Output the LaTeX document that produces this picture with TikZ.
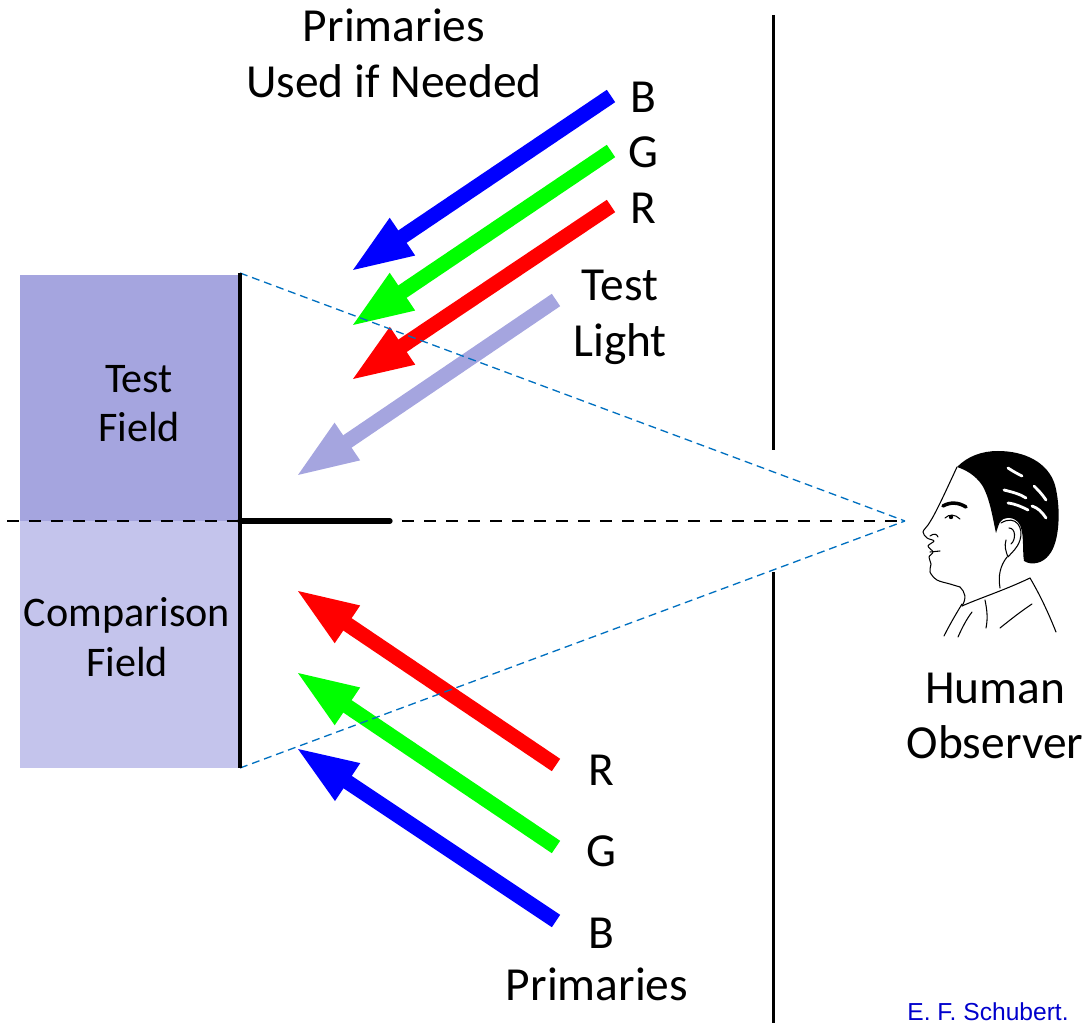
\documentclass[tikz,border=0pt]{standalone}
\usepackage{fontspec}
\setmainfont{Carlito}
\newfontfamily\creditfont{Liberation Sans}
\usetikzlibrary{arrows.meta}

\definecolor{testfield}{RGB}{165,165,223}
\definecolor{compfield}{RGB}{196,196,236}
\definecolor{primB}{RGB}{0,0,255}
\definecolor{primG}{RGB}{0,255,0}
\definecolor{primR}{RGB}{255,0,0}
\definecolor{sightline}{RGB}{0,112,192}
\definecolor{credit}{RGB}{0,0,204}

\begin{document}
\begin{tikzpicture}[x=0.02cm, y=-0.02cm,
	beam/.style={line width=8.5pt, -{Triangle[length=36pt, width=23pt]}},
	biglabel/.style={anchor=base, align=center, font=\fontsize{27}{32.3}\selectfont},
	fieldlabel/.style={anchor=base, align=center, font=\fontsize{24}{28.3}\selectfont},
	sight/.style={sightline, line width=0.75pt, dash pattern=on 4.5pt off 2.8pt},
	face/.style={line width=0.6pt, line cap=round, line join=round}]
	
	\useasboundingbox (0,0) rectangle (1085,1023);
	
	% the two halves of the bipartite field
	\fill[testfield] (20,275) rectangle (240,521);
	\fill[compfield] (20,521) rectangle (240,768);
	
	\coordinate (fieldT) at (240,273);
	\coordinate (fieldB) at (240,768);
	\coordinate (fieldM) at (240,521);
	\coordinate (baffle) at (390,521);
	\coordinate (axisL) at (7,521);
	\coordinate (eye) at (905,521);
	
	% screen
	\coordinate (scrA) at (773,15);
	\coordinate (scrB) at (773,450);
	\coordinate (scrC) at (773,572);
	\coordinate (scrD) at (773,1023);
	\draw[line width=1.7pt] (scrA) -- (scrB);
	\draw[line width=1.7pt] (scrC) -- (scrD);
	
	% primaries added to the test light
	\coordinate (tB) at (611,96);   \coordinate (hB) at (350,272);
	\coordinate (tG) at (611,151);  \coordinate (hG) at (350,327);
	\coordinate (tR) at (611,206);  \coordinate (hR) at (350,381);
	\coordinate (tT) at (556,300);  \coordinate (hT) at (295,477);
	\draw[beam, primB] (tB) -- (hB);
	\draw[beam, primG] (tG) -- (hG);
	\draw[beam, primR] (tR) -- (hR);
	\draw[beam, testfield] (tT) -- (hT);
	
	% primaries mixed on the comparison field
	\coordinate (bR) at (556,765);  \coordinate (cR) at (295,589);
	\coordinate (bG) at (556,847);  \coordinate (cG) at (295,671);
	\coordinate (bB) at (556,921);  \coordinate (cB) at (295,747);
	\draw[beam, primR] (bR) -- (cR);
	\draw[beam, primG] (bG) -- (cG);
	\draw[beam, primB] (bB) -- (cB);
	
	% lines of sight and axis
	\draw[sight] (fieldT) -- (eye);
	\draw[sight] (fieldB) -- (eye);
	\draw[line width=1.7pt, dash pattern=on 6.8pt off 5.7pt] (axisL) -- (eye);
	\draw[line width=2.8pt] (fieldT) -- (fieldB);
	\draw[line width=3pt, line cap=round] (fieldM) -- (baffle);
	
	% labels (base anchor sits on the last line)
	\node[biglabel] (topPrim) at (394,98) {Primaries\\Used if Needed};
	\node[biglabel] (labB) at (643,113) {B};
	\node[biglabel] (labG) at (643,168) {G};
	\node[biglabel] (labR) at (643,224) {R};
	\node[biglabel] (testLight) at (620,357) {Test\\Light};
	\node[fieldlabel] (testField) at (139,442) {Test\\Field};
	\node[fieldlabel] (compField) at (127,676) {Comparison\\Field};
	\node[biglabel] (lowR) at (601,785) {R};
	\node[biglabel] (lowG) at (601,866) {G};
	\node[biglabel] (lowB) at (601,948) {B};
	\node[biglabel] (lowPrim) at (597,1000) {Primaries};
	\node[biglabel, font=\fontsize{27}{31.2}\selectfont] (observer) at (995,758) {Human\\Observer};
	\node[anchor=base west, inner sep=0pt, text=credit, font=\creditfont\fontsize{14}{16}\selectfont] (credit) at (907,1020) {E. F. Schubert.};
	
	% observer in profile
	\fill (957,467) .. controls (968,456) and (982,451) .. (998,451)
		.. controls (1024,451) and (1048,462) .. (1055,485)
		.. controls (1061,508) and (1060,542) .. (1049,555)
		.. controls (1043,563) and (1032,566) .. (1024,561)
		.. controls (1022,550) and (1025,530) .. (1018,522)
		.. controls (1012,516) and (1003,517) .. (1000,522)
		.. controls (998,526) and (997,530) .. (996,533)
		.. controls (993,520) and (990,498) .. (982,485)
		.. controls (975,475) and (966,470) .. (957,467) -- cycle;
	\draw[white, line width=1.6pt, line cap=round]
		(1008,468) .. controls (1014,472) and (1018,474) .. (1022,476)
		(1004,490) .. controls (1012,492) and (1020,494) .. (1026,498)
		(1008,503) .. controls (1016,504) and (1022,507) .. (1028,510)
		(1034,486) .. controls (1038,490) and (1042,494) .. (1046,500)
		(1032,506) .. controls (1038,508) and (1042,512) .. (1046,518);
	\draw[face] plot[smooth, tension=0.55] coordinates {(957,467) (943,497)
		(934,515) (928,525) (923,532) (927,538) (934,541) (928,546) (933,552)
		(929,557) (931,564) (930,572) (937,580) (950,584) (960,587)};
	\draw[face] (960,587) .. controls (965,592) and (967,598) .. (962,606);
	% ear
	\draw[face] (1001,523) .. controls (1016,514) and (1024,528) .. (1020,540)
		.. controls (1017,549) and (1012,552) .. (1008,557)
		.. controls (1006,552) and (1004,546) .. (1006,540);
	\draw[face] (1009,528) .. controls (1016,528) and (1016,540) .. (1011,544);
	% eye, brow, nostril, mouth
	\draw[line width=2pt, line cap=round] (943,506) .. controls (950,502) and (958,502) .. (966,507);
	\draw[face] (945,518) .. controls (949,514) and (955,514) .. (960,519);
	\fill (951,517) circle (2.2);
	\draw[face] (930,536) .. controls (934,533) and (937,534) .. (938,537);
	\draw[face] (930,552) -- (940,551);
	% jaw, neck and collar
	\draw[face] (1007,557) .. controls (1000,566) and (998,576) .. (1000,588);
	\draw[face] (962,606) .. controls (980,598) and (1005,590) .. (1030,578);
	\draw[face] (1030,578) .. controls (1040,595) and (1048,612) .. (1056,632);
	\draw[face] (962,604) .. controls (956,614) and (950,624) .. (944,636);
	\draw[face] (972,612) .. controls (966,620) and (962,628) .. (958,637);
	\draw[face] (1000,628) .. controls (1010,620) and (1020,612) .. (1032,604);
	\draw[face] (985,600) .. controls (987,610) and (988,618) .. (986,628);
	
\end{tikzpicture}
\end{document}
